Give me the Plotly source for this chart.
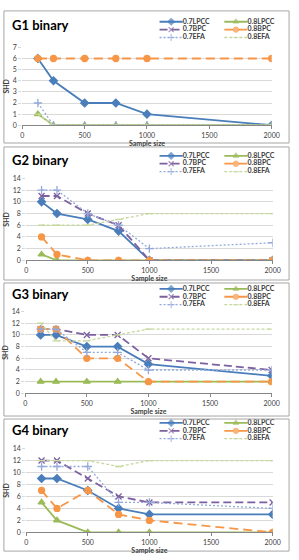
import plotly.graph_objects as go

# ---------------- data ----------------
sample_sizes = [125, 250, 500, 750, 1000, 2000]
series_names = ["0.7LPCC", "0.8LPCC", "0.7BPC", "0.8BPC", "0.7EFA", "0.8EFA"]
panel_titles = ["G1 binary", "G2 binary", "G3 binary", "G4 binary"]
x_tick_vals = [0, 500, 1000, 1500, 2000]

g1_07lpcc = [6, 4, 2, 2, 1, 0]
g1_08lpcc = [1, 0, 0, 0, 0, 0]
g1_07bpc = [None, None, None, None, None, None]  # not visible in the chart
g1_08bpc = [6, 6, 6, 6, 6, 6]
g1_07efa = [2, 0, 0, 0, 0, 0]
g1_08efa = [1, 0, 0, 0, 0, 0]

g2_07lpcc = [10, 8, 7, 5, 0, 0]
g2_08lpcc = [1, 0, 0, 0, 0, 0]
g2_07bpc = [11, 11, 8, 6, 0, 0]
g2_08bpc = [4, 1, 0, 0, 0, 0]
g2_07efa = [12, 12, 8, 6, 2, 3]
g2_08efa = [6, 6, 6, 7, 8, 8]

g3_07lpcc = [10, 10, 8, 8, 5, 3]
g3_08lpcc = [2, 2, 2, 2, 2, 2]
g3_07bpc = [11, 11, 10, 10, 6, 4]
g3_08bpc = [11, 11, 6, 6, 2, 2]
g3_07efa = [11, 11, 7, 7, 4, 4]
g3_08efa = [12, 9, 9, 10, 11, 11]

g4_07lpcc = [9, 9, 7, 4, 3, 3]
g4_08lpcc = [5, 2, 0, 0, 0, 0]
g4_07bpc = [12, 12, 9, 6, 5, 5]
g4_08bpc = [7, 4, 7, 3, 2, 0]
g4_07efa = [11, 11, 11, 5, 5, 4]
g4_08efa = [12, 12, 12, 11, 12, 12]

panel_data = [
    [g1_07lpcc, g1_08lpcc, g1_07bpc, g1_08bpc, g1_07efa, g1_08efa],
    [g2_07lpcc, g2_08lpcc, g2_07bpc, g2_08bpc, g2_07efa, g2_08efa],
    [g3_07lpcc, g3_08lpcc, g3_07bpc, g3_08bpc, g3_07efa, g3_08efa],
    [g4_07lpcc, g4_08lpcc, g4_07bpc, g4_08bpc, g4_07efa, g4_08efa],
]
y_max = [7, 14, 14, 14]
y_dtick = [1, 2, 2, 2]

# ---------------- styles / layout ----------------
W, H = 299, 560
FONT = "Lato"
styles = [
    dict(color="#4A7EBB", dash="solid", width=1.8, symbol="diamond", size=6),
    dict(color="#9BBB59", dash="solid", width=1.8, symbol="triangle-up", size=6),
    dict(color="#7D60A0", dash="8px,4px", width=1.8, symbol="x-thin-open", size=6),
    dict(color="#F79646", dash="9px,5px", width=1.8, symbol="circle", size=6),
    dict(color="#93A9DA", dash="2px,2px", width=1.3, symbol="cross-thin-open", size=6),
    dict(color="#C6D89E", dash="3px,2px", width=1.3, symbol="line-ew-open", size=5),
]

# panel geometry in pixels
panels = [
    dict(top=6, bottom=140, px0=21, px1=279, py0=43, py1=122, title_y=20, leg_y=17),
    dict(top=144, bottom=279, px0=25, px1=280, py0=176, py1=259, title_y=157, leg_y=153),
    dict(top=282, bottom=417, px0=24, px1=279, py0=311, py1=394, title_y=293, leg_y=288),
    dict(top=420, bottom=554, px0=25, px1=280, py0=450, py1=535, title_y=431, leg_y=424),
]


def fx(px):
    return px / W


def fy(py):
    return 1 - py / H


fig = go.Figure()
layout = dict(
    width=W, height=H, margin=dict(l=0, r=0, t=0, b=0),
    paper_bgcolor="white", plot_bgcolor="white",
    font=dict(family=FONT, size=7, color="#404040"),
    showlegend=False,
)
shapes = []
annotations = []

for p, (geo, series) in enumerate(zip(panels, panel_data)):
    ax = p + 1
    xa = "xaxis" if ax == 1 else f"xaxis{ax}"
    ya = "yaxis" if ax == 1 else f"yaxis{ax}"
    xr = "x" if ax == 1 else f"x{ax}"
    yr = "y" if ax == 1 else f"y{ax}"
    layout[xa] = dict(
        domain=[fx(geo["px0"]), fx(geo["px1"])], anchor=yr, range=[0, 2000],
        tickvals=x_tick_vals, showgrid=False, zeroline=False,
        showline=True, linecolor="#868686", linewidth=1,
        ticks="outside", ticklen=3, tickcolor="#868686",
        tickfont=dict(size=7, color="#404040"),
        title=dict(text="<b>Sample size</b>", font=dict(size=7, color="#404040"), standoff=1),
    )
    layout[ya] = dict(
        domain=[fy(geo["py1"]), fy(geo["py0"])], anchor=xr, range=[0, y_max[p]],
        dtick=y_dtick[p], showgrid=True, gridcolor="#D9D9D9", gridwidth=1,
        zeroline=False, showline=False,
        ticks="outside", ticklen=3, tickcolor="#D9D9D9",
        tickfont=dict(size=7, color="#404040"),
        title=dict(text="<b>SHD</b>", font=dict(size=7, color="#404040"), standoff=2),
    )
    for k, (name, vals) in enumerate(zip(series_names, series)):
        st = styles[k]
        fig.add_trace(go.Scatter(
            x=sample_sizes, y=vals, name=name, mode="lines+markers",
            xaxis=xr, yaxis=yr,
            line=dict(color=st["color"], dash=st["dash"], width=st["width"]),
            marker=dict(symbol=st["symbol"], size=st["size"], color=st["color"],
                        line=dict(color=st["color"], width=1.3)),
            showlegend=False, hoverinfo="x+y+name",
        ))

    # custom two-column legend on its own hidden axes
    lax = p + 5
    lxa, lya = f"xaxis{lax}", f"yaxis{lax}"
    lxr, lyr = f"x{lax}", f"y{lax}"
    leg_x0 = 160
    layout[lxa] = dict(domain=[fx(leg_x0), fx(296)], range=[0, 296 - leg_x0],
                       visible=False, anchor=lyr, fixedrange=True)
    layout[lya] = dict(domain=[fy(geo["leg_y"] + 20), fy(geo["leg_y"] - 4)],
                       range=[2.5, -0.5], visible=False, anchor=lxr, fixedrange=True)
    for k, name in enumerate(series_names):
        st = styles[k]
        row, col = k // 2, k % 2
        c0 = 3 + col * 67
        fig.add_trace(go.Scatter(
            x=[c0, c0 + 12, c0 + 24], y=[row, row, row], mode="lines+markers",
            xaxis=lxr, yaxis=lyr,
            line=dict(color=st["color"], dash=st["dash"], width=st["width"]),
            marker=dict(symbol=st["symbol"], size=[0, st["size"] - 1, 0], color=st["color"],
                        line=dict(color=st["color"], width=1.2)),
            showlegend=False, hoverinfo="skip",
        ))
        fig.add_trace(go.Scatter(
            x=[c0 + 24], y=[row], mode="text", text=[f"<b>{name}</b>"],
            textposition="middle right", xaxis=lxr, yaxis=lyr,
            textfont=dict(size=7, color="#404040", family=FONT),
            showlegend=False, hoverinfo="skip",
        ))

    shapes.append(dict(type="rect", xref="paper", yref="paper",
                       x0=fx(2), x1=fx(297), y0=fy(geo["bottom"]), y1=fy(geo["top"]),
                       line=dict(color="#A6A6A6", width=1)))
    annotations.append(dict(text=f"<b>{panel_titles[p]}</b>", xref="paper", yref="paper",
                            x=fx(8), y=fy(geo["title_y"]), xanchor="left", yanchor="middle",
                            showarrow=False, font=dict(size=13, color="#000000", family=FONT)))

layout["shapes"] = shapes
layout["annotations"] = annotations
fig.update_layout(**layout)
fig.write_html("out.html")
